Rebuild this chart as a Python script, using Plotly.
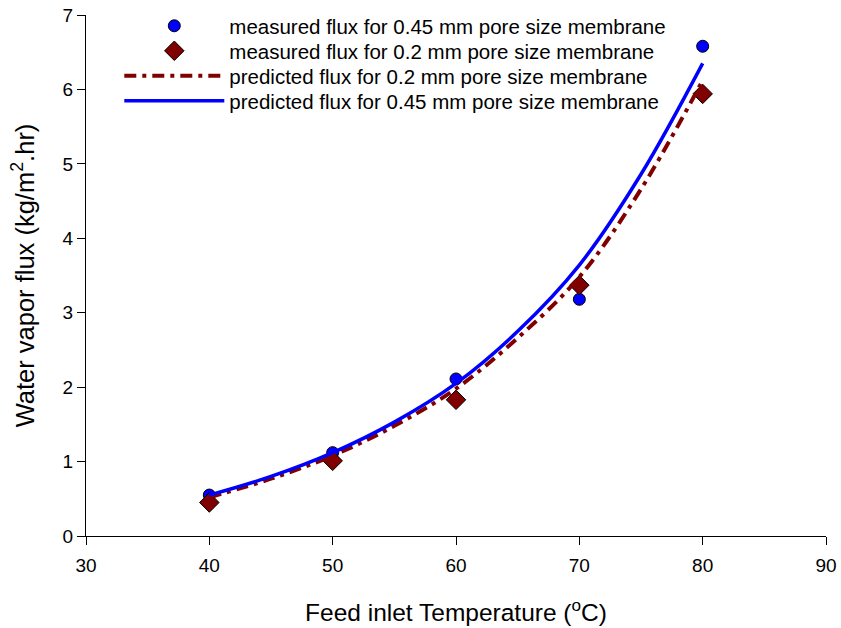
import plotly.graph_objects as go

temps = [40, 50, 60, 70, 80]
meas_045 = [0.55, 1.12, 2.11, 3.18, 6.58]
meas_02 = [0.45, 1.01, 1.83, 3.37, 5.94]

pred_t = [40, 45, 50, 55, 60, 65, 70, 75, 80]
pred_045 = [0.55, 0.80, 1.12, 1.53, 2.05, 2.75, 3.64, 4.86, 6.35]
pred_02 = [0.52, 0.77, 1.08, 1.48, 1.98, 2.66, 3.48, 4.66, 6.12]

x_ticks = [30, 40, 50, 60, 70, 80, 90]
y_ticks = [0, 1, 2, 3, 4, 5, 6, 7]

names = [
    "measured flux for 0.45 mm pore size membrane",
    "measured flux for 0.2 mm pore size membrane",
    "predicted flux for 0.2 mm pore size membrane",
    "predicted flux for 0.45 mm pore size membrane",
]

fig = go.Figure()
fig.add_trace(go.Scatter(x=temps, y=meas_045, mode="markers",
                         marker=dict(symbol="circle", size=12, color="#0000ff",
                                     line=dict(color="black", width=1)),
                         name=names[0], legend="legend"))
fig.add_trace(go.Scatter(x=temps, y=meas_02, mode="markers",
                         marker=dict(symbol="diamond", size=15, color="#800000",
                                     line=dict(color="black", width=1)),
                         name=names[1], legend="legend2"))
fig.add_trace(go.Scatter(x=pred_t, y=pred_02, mode="lines", line_shape="spline",
                         line=dict(color="#800000", width=4, dash="12px,6px,4px,6px"),
                         name=names[2], legend="legend3"))
fig.add_trace(go.Scatter(x=pred_t, y=pred_045, mode="lines", line_shape="spline",
                         line=dict(color="#0000ff", width=3.5),
                         name=names[3], legend="legend4"))

leg_common = dict(x=0.045, xanchor="left", yanchor="middle",
                  bgcolor="rgba(0,0,0,0)", font=dict(size=20.5), itemwidth=100)

fig.update_layout(
    width=841, height=628,
    margin=dict(l=86, r=15, t=15, b=92, autoexpand=False),
    plot_bgcolor="white", paper_bgcolor="white",
    font=dict(family="Liberation Sans, Arial, sans-serif", size=19, color="black"),
    showlegend=True,
    legend=dict(y=0.979, **leg_common),
    legend2=dict(y=0.931, **leg_common),
    legend3=dict(y=0.883, **leg_common),
    legend4=dict(y=0.835, **leg_common),
    xaxis=dict(range=[30, 90], tickvals=x_ticks, showgrid=False, zeroline=False,
               showline=True, linecolor="black", linewidth=1, automargin=False,
               ticks="outside", ticklen=8, tickcolor="black",
               tickfont=dict(size=19), ticklabelstandoff=4,
               title=dict(text="Feed inlet Temperature (<sup>o</sup>C)", font=dict(size=24.5), standoff=29)),
    yaxis=dict(range=[0, 7], tickvals=y_ticks, showgrid=False, zeroline=False,
               showline=True, linecolor="black", linewidth=1, automargin=False,
               ticks="outside", ticklen=8, tickcolor="black",
               tickfont=dict(size=19),
               title=dict(text="Water vapor flux (kg/m<sup>2</sup>.hr)", font=dict(size=25.5), standoff=20)),
)

fig.write_html("out.html", config={"displayModeBar": False},
               post_script="document.body.style.margin='0px';")
